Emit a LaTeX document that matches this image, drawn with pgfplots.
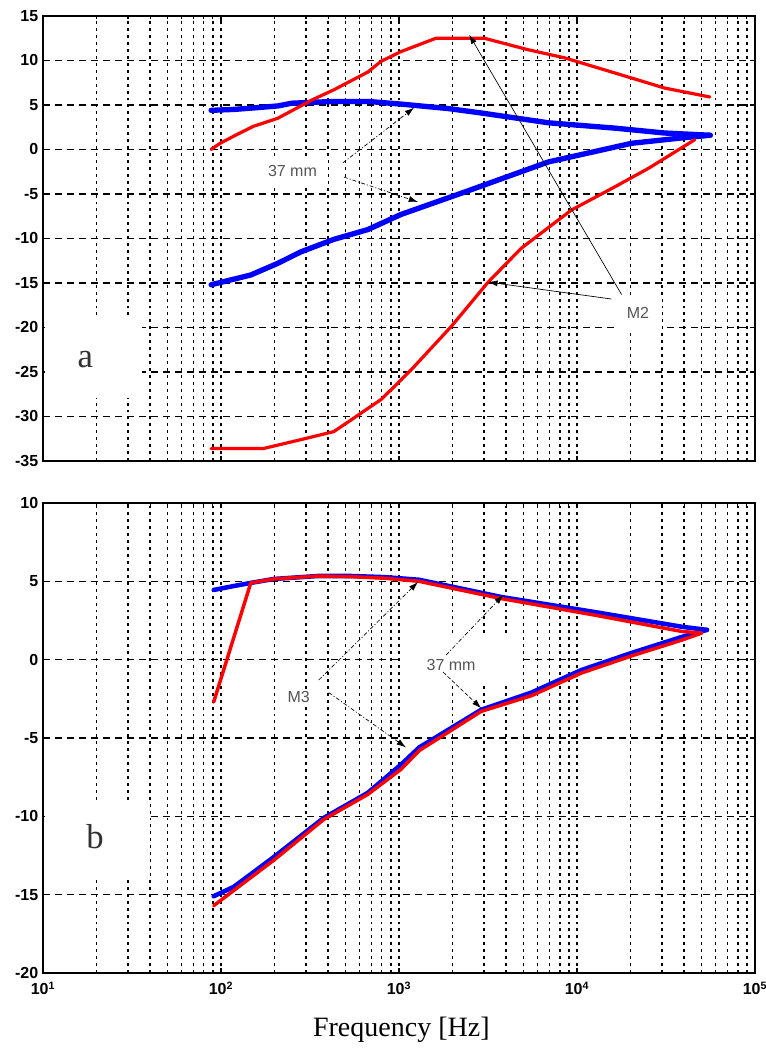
\documentclass[border=0pt]{standalone}
\usepackage{fontspec}
\setmainfont{Liberation Serif}
\setsansfont{Liberation Sans}
\usepackage{pgfplots}
\pgfplotsset{compat=1.18}
\usetikzlibrary{arrows.meta}

\definecolor{mblue}{RGB}{0,0,255}
\definecolor{mred}{RGB}{255,0,0}
\definecolor{anno}{RGB}{85,85,85}
\definecolor{lettc}{RGB}{50,50,50}

\pgfplotsset{
  mypanel/.style={
    scale only axis, width=534pt,
    xmin=10, xmax=1e5,
    axis line style={line width=1.5pt},
    tick align=inside,
    major tick length=4pt, minor tick length=2.5pt,
    tick style={black, line width=0.9pt},
    xmajorgrids, xminorgrids, ymajorgrids,
    major x grid style={black, line width=1.1pt, dash pattern=on 2.2pt off 3pt},
    minor x grid style={black, line width=1.1pt, dash pattern=on 2.2pt off 3pt},
    major y grid style={black, line width=1.1pt, dash pattern=on 5.5pt off 3.5pt},
    ticklabel style={font=\sffamily\bfseries\fontsize{12}{12}\selectfont},
    xticklabel style={yshift=-3pt},
    clip=false,
  },
}
\tikzset{
  bluecurve/.style={mblue, line width=#1, line join=round, line cap=round},
  redcurve/.style={mred, line width=#1, line join=round, line cap=round},
  annoarrow/.style={black, line width=0.5pt, -{Latex[length=7pt,width=4.5pt]}},
  dashdot/.style={dash pattern=on 3pt off 1.5pt on 0.8pt off 1.5pt},
  annolabel/.style={text=anno, font=\sffamily\fontsize{12}{12}\selectfont},
}

\begin{document}
\begin{tikzpicture}
\useasboundingbox (0,0) rectangle (573.75pt,791.25pt);

% ---- panel a
\begin{axis}[xmode=log, mypanel,
  at={(32.25pt,445.5pt)}, anchor=south west, height=333.75pt,
  ymin=-35, ymax=15,
  ytick={-35,-30,-25,-20,-15,-10,-5,0,5,10,15},
  yticklabels={-35,-30,-25,-20,-15,-10,-5,0,5,10,15},
  xtick={10,100,1000,10000,100000}, xticklabels={},
]
\fill[white] (axis cs:10.25,-27.9) rectangle (axis cs:36,-18.6);

\addplot[bluecurve=4pt, no marks] coordinates {
 (88,4.4) (118,4.5) (160,4.7) (210,4.9) (250,5.2) (430,5.4) (668,5.4)
 (1026,5.1) (1888,4.6) (2900,4.1) (6900,3.0) (16300,2.4) (31100,1.85) (56000,1.6)
};
\addplot[bluecurve=4pt, no marks] coordinates {
 (88,-15.2) (147,-14.1) (208,-12.8) (281,-11.5) (430,-10.1) (668,-9.0)
 (1026,-7.3) (2323,-4.8) (6900,-1.4) (20300,0.7) (38800,1.3) (56000,1.6)
};
\addplot[redcurve=2.4pt, no marks] coordinates {
 (88,0.0) (99,0.7) (118,1.5) (152,2.6) (208,3.5) (327,5.6) (430,6.7)
 (668,8.7) (792,9.9) (1026,11.0) (1614,12.5) (3013,12.5) (5330,11.2)
 (8511,10.3) (16300,8.6) (31100,6.9) (55700,5.9)
};
\addplot[redcurve=2.4pt, no marks] coordinates {
 (88,-33.6) (173,-33.6) (281,-32.6) (430,-31.7) (537,-30.4) (668,-29.1)
 (792,-28.1) (1026,-25.9) (1216,-24.4) (1963,-19.9) (3170,-14.9)
 (4860,-11.1) (9310,-6.8) (16300,-4.2) (25300,-2.1) (38800,0.2) (45900,1.1)
};

\node[annolabel, fill=white, inner xsep=8pt, inner ysep=7pt] at (axis cs:252,-2.4) {37 mm};
\draw[annoarrow, dashdot] (axis cs:484,-1.5) -- (axis cs:1216,4.7);
\draw[annoarrow, dashdot] (axis cs:490,-3.1) -- (axis cs:1279,-5.9);

\node[annolabel, fill=white, inner xsep=10pt, inner ysep=8pt] at (axis cs:22000,-18.4) {M2};
\draw[annoarrow] (axis cs:17800,-16.3) -- (axis cs:2477,12.9);
\draw[annoarrow] (axis cs:15600,-16.8) -- (axis cs:3170,-14.9);

\node[text=lettc, font=\fontsize{26}{26}\selectfont] at (axis cs:17.3,-23.6) {a};
\end{axis}

% ---- panel b
\begin{axis}[xmode=log, mypanel,
  at={(32.25pt,61.5pt)}, anchor=south west, height=352.5pt,
  ymin=-20, ymax=10,
  ytick={-20,-15,-10,-5,0,5,10},
  yticklabels={-20,-15,-10,-5,0,5,10},
  xtick={10,100,1000,10000,100000},
  xticklabels={10\textsuperscript{1},10\textsuperscript{2},10\textsuperscript{3},10\textsuperscript{4},10\textsuperscript{5}},
]
\fill[white] (axis cs:10.25,-13.9) rectangle (axis cs:40,-9.15);
\fill[white] (axis cs:1026,-1.42) rectangle (axis cs:4700,1.45);

\addplot[bluecurve=3.4pt, no marks] coordinates {
 (91,4.45) (118,4.7) (147,4.9) (198,5.15) (350,5.34) (537,5.34) (822,5.27)
 (1297,5.1) (3757,4.0) (13200,3.0) (38800,2.1) (53700,1.9)
};
\addplot[bluecurve=3.4pt, no marks] coordinates {
 (91,-15.1) (118,-14.5) (198,-12.6) (378,-10.1) (668,-8.5) (1026,-6.7)
 (1300,-5.6) (2896,-3.2) (5546,-2.1) (10600,-0.66) (20270,0.43) (38800,1.45) (53700,1.9)
};
\addplot[redcurve=2.6pt, no marks] coordinates {
 (91,-2.7) (147,4.9) (198,5.15) (350,5.34) (537,5.3) (822,5.2)
 (1297,5.0) (3757,3.9) (13200,2.8) (38800,1.8) (50200,1.7)
};
\addplot[redcurve=2.6pt, no marks] coordinates {
 (91,-15.7) (198,-12.8) (378,-10.2) (668,-8.6) (1026,-7.0) (1300,-5.8)
 (2896,-3.3) (5546,-2.3) (10600,-0.85) (20270,0.24) (38800,1.25) (50200,1.7)
};

\node[annolabel] at (axis cs:1963,-0.34) {37 mm};
\draw[annoarrow, dashdot] (axis cs:1841,0.3) -- (axis cs:3855,4.13);
\draw[annoarrow, dash pattern=on 3pt off 1.5pt] (axis cs:1770,-0.8) -- (axis cs:2896,-3.1);

\node[annolabel, fill=white, inner sep=2pt] at (axis cs:273,-2.4) {M3};
\draw[annoarrow, dashdot] (axis cs:354,-1.3) -- (axis cs:1279,4.96);
\draw[annoarrow, dashdot] (axis cs:403,-2.1) -- (axis cs:1094,-5.6);

\node[text=lettc, font=\fontsize{26}{26}\selectfont] at (axis cs:19.6,-11.3) {b};
\end{axis}

\node[font=\fontsize{21}{25}\selectfont] at (301pt,19pt) {Frequency [Hz]};
\end{tikzpicture}
\end{document}
